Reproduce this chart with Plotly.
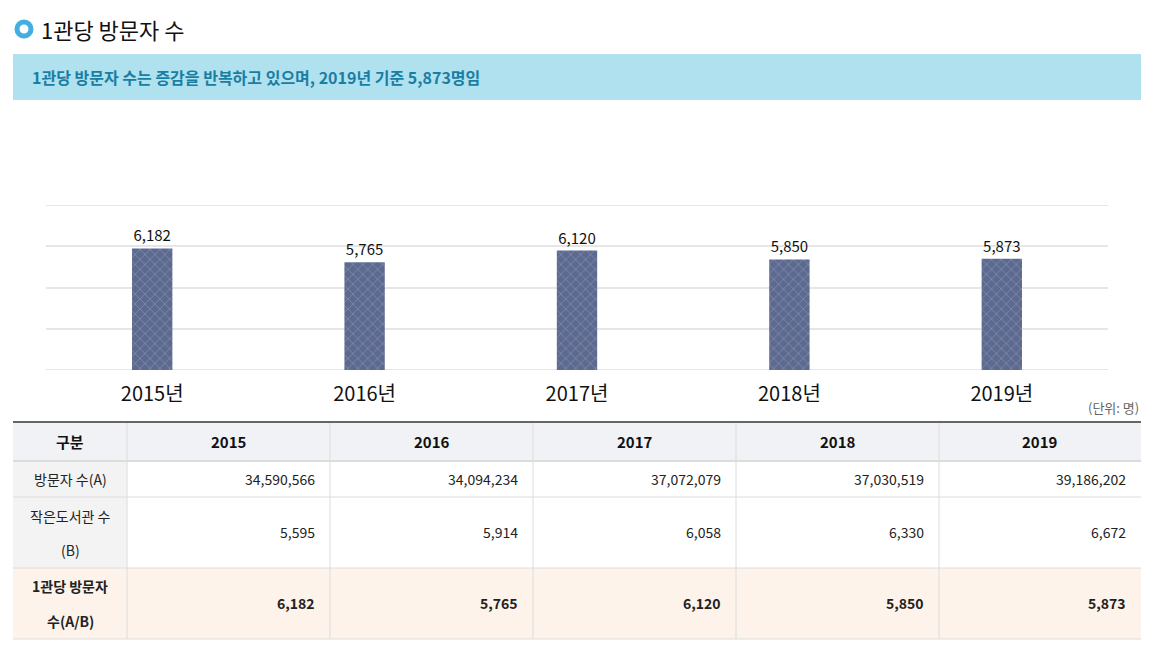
import plotly.graph_objects as go

# ---------------- data ----------------
years = ["2015", "2016", "2017", "2018", "2019"]
year_labels = ["2015년", "2016년", "2017년", "2018년", "2019년"]
per_library = [6182, 5765, 6120, 5850, 5873]
visitors = [34590566, 34094234, 37072079, 37030519, 39186202]
libraries = [5595, 5914, 6058, 6330, 6672]

title_text = "1관당 방문자 수"
summary_text = "1관당 방문자 수는 증감을 반복하고 있으며, 2019년 기준 5,873명임"
unit_text = "(단위: 명)"
header_first = "구분"
row_labels = [["방문자 수(A)"], ["작은도서관 수", "(B)"], ["1관당 방문자", "수(A/B)"]]
y_ticks = [2500, 3750, 5000, 6250, 7500]

W, H = 1154, 647
FONT = "Noto Sans CJK KR, Noto Sans, sans-serif"


def px(x):
    return x / W


def py(y):
    return 1 - y / H


fig = go.Figure()
fig.add_trace(go.Bar(
    x=year_labels, y=per_library,
    marker=dict(color="#5d6a8f",
                line=dict(width=0),
                pattern=dict(shape="x", bgcolor="#5d6a8f", fgcolor="#98a3c2",
                             size=7, solidity=0.25)),
    text=[f"{v:,}" for v in per_library], textposition="outside",
    textfont=dict(size=15, color="#111", family=FONT),
    cliponaxis=False, hoverinfo="skip",
))

shapes = []
ann = []

# chart grid lines at range ends (drawn on the y axis)
for v in (y_ticks[0], y_ticks[-1]):
    shapes.append(dict(type="line", xref="paper", yref="y",
                       x0=px(46), x1=px(1108), y0=v, y1=v,
                       line=dict(color="#e6e6e6", width=2), layer="below"))

# title icon
shapes.append(dict(type="circle", xref="paper", yref="paper",
                   x0=px(17), x1=px(31), y0=py(36), y1=py(22),
                   line=dict(color="#43aee0", width=5), fillcolor="white"))
ann.append(dict(x=px(39), y=py(29), xref="paper", yref="paper", text=title_text,
                showarrow=False, xanchor="left", yanchor="middle",
                font=dict(size=22, color="#111", family=FONT)))

# summary box
shapes.append(dict(type="rect", xref="paper", yref="paper",
                   x0=px(13), x1=px(1141), y0=py(100), y1=py(54),
                   line=dict(width=0), fillcolor="#b0e1ef", layer="below"))
ann.append(dict(x=px(30), y=py(77), xref="paper", yref="paper", text="<b>" + summary_text + "</b>",
                showarrow=False, xanchor="left", yanchor="middle",
                font=dict(size=16, color="#1a7ea3", family=FONT)))

# unit
ann.append(dict(x=px(1141), y=py(408), xref="paper", yref="paper", text=unit_text,
                showarrow=False, xanchor="right", yanchor="middle",
                font=dict(size=13, color="#666", family=FONT)))

# ---------------- table ----------------
col_x = [13, 127, 330, 533, 736, 939, 1141]
row_y = [422, 461, 497, 568, 639]
fills = ["#f1f2f6", None, None, "#fdf3ea"]
for r in range(4):
    if fills[r]:
        shapes.append(dict(type="rect", xref="paper", yref="paper",
                           x0=px(col_x[0]), x1=px(col_x[-1]), y0=py(row_y[r + 1]), y1=py(row_y[r]),
                           line=dict(width=0), fillcolor=fills[r], layer="below"))
    else:
        shapes.append(dict(type="rect", xref="paper", yref="paper",
                           x0=px(col_x[0]), x1=px(col_x[1]), y0=py(row_y[r + 1]), y1=py(row_y[r]),
                           line=dict(width=0), fillcolor="#f3f3f3", layer="below"))
# horizontal lines
for i, y in enumerate(row_y):
    if i == 0:
        continue
    shapes.append(dict(type="line", xref="paper", yref="paper",
                       x0=px(col_x[0]), x1=px(col_x[-1]), y0=py(y), y1=py(y),
                       line=dict(color="#dcdcdc", width=2 if i == 1 else 1)))
# vertical lines
for x in col_x[1:-1]:
    shapes.append(dict(type="line", xref="paper", yref="paper",
                       x0=px(x), x1=px(x), y0=py(row_y[-1]), y1=py(row_y[0]),
                       line=dict(color="#dcdcdc", width=1)))
# top dark border
shapes.append(dict(type="line", xref="paper", yref="paper",
                   x0=px(col_x[0]), x1=px(col_x[-1]), y0=py(row_y[0]), y1=py(row_y[0]),
                   line=dict(color="#666", width=2)))

# header text
ann.append(dict(x=px((col_x[0] + col_x[1]) / 2), y=py(441), xref="paper", yref="paper",
                text="<b>" + header_first + "</b>", showarrow=False,
                xanchor="center", yanchor="middle",
                font=dict(size=15, color="#111", family=FONT)))
for i, yr in enumerate(years):
    ann.append(dict(x=px((col_x[i + 1] + col_x[i + 2]) / 2), y=py(441), xref="paper", yref="paper",
                    text="<b>" + yr + "</b>", showarrow=False,
                    xanchor="center", yanchor="middle",
                    font=dict(size=15, color="#111", family=FONT)))

# row labels
label_lines_y = [[479], [516, 550], [586, 621]]
for r, lines in enumerate(row_labels):
    for j, line in enumerate(lines):
        t = "<b>" + line + "</b>" if r == 2 else line
        ann.append(dict(x=px((col_x[0] + col_x[1]) / 2), y=py(label_lines_y[r][j]),
                        xref="paper", yref="paper", text=t, showarrow=False,
                        xanchor="center", yanchor="middle",
                        font=dict(size=14, color="#222", family=FONT)))

# values
value_rows = [visitors, libraries, per_library]
value_y = [479, 532, 603]
for r, vals in enumerate(value_rows):
    for i, v in enumerate(vals):
        t = f"{v:,}"
        if r == 2:
            t = "<b>" + t + "</b>"
        ann.append(dict(x=px(col_x[i + 2] - 13), y=py(value_y[r]), xref="paper", yref="paper",
                        text=t, showarrow=False, xanchor="right", yanchor="middle",
                        font=dict(size=14, color="#222", family=FONT)))

fig.update_layout(
    width=W, height=H, margin=dict(l=0, r=0, t=0, b=0),
    paper_bgcolor="white", plot_bgcolor="white",
    showlegend=False, bargap=0.81,
    shapes=shapes, annotations=ann,
    font=dict(family=FONT),
    xaxis=dict(domain=[px(46), px(1108)], showgrid=False, zeroline=False,
               showline=False, ticks="outside", ticklen=6, tickcolor="rgba(0,0,0,0)",
               tickfont=dict(size=20, color="#111", family=FONT),
               fixedrange=True),
    yaxis=dict(domain=[py(370), py(205)], range=[2500, 7500],
               tickmode="array", tickvals=y_ticks, showticklabels=False,
               showgrid=True, gridcolor="#e6e6e6", gridwidth=2, zeroline=False,
               showline=False, fixedrange=True),
)

fig.write_html("out.html", config={"displayModeBar": False},
               post_script="document.body.style.margin='0px';")
